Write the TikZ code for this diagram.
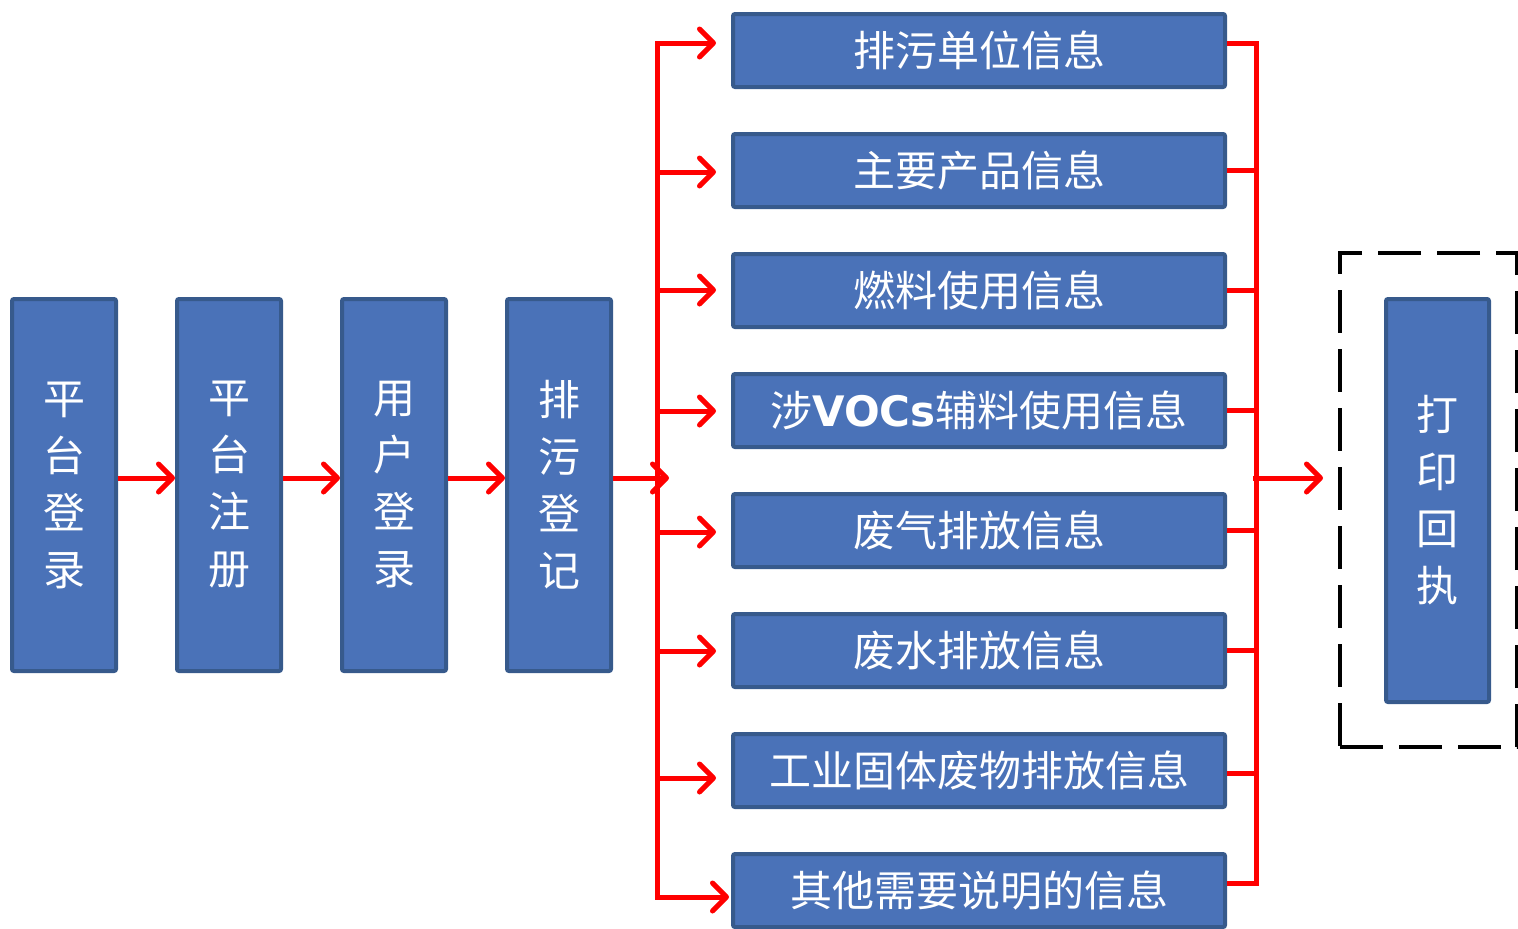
\documentclass[tikz,border=0pt]{standalone}
\usepackage{fontspec}
\newfontfamily\cjk{Noto Sans CJK SC}
\newfontfamily\dvs{DejaVu Sans}
\usetikzlibrary{arrows.meta}
\definecolor{bfill}{HTML}{4A72B8}
\definecolor{bborder}{HTML}{375A8C}
\tikzset{
  box/.style={draw=bborder, fill=bfill, line width=4pt, rounded corners=2pt, text=white, inner sep=0pt},
  vbox/.style={box, minimum width=104, minimum height=372, align=center, font=\cjk\fontsize{42}{57}\selectfont},
  hbox/.style={box, minimum width=492, minimum height=73, font=\cjk\fontsize{42}{50}\selectfont},
  redline/.style={draw=red, line width=5pt},
  arr/.style={redline, -{Straight Barb[length=14pt,width=28pt,round]}},
  dashbox/.style={draw=black, line width=4pt, dash pattern=on 43pt off 16pt}
}
\begin{document}
\begin{tikzpicture}[x=1pt,y=-1pt]
\useasboundingbox (0,0) rectangle (1518,929);
\clip (0,0) rectangle (1518,929);
% left column
\node[vbox] (a) at (64,485) {平\\台\\登\\录};
\node[vbox] (b) at (229,485) {平\\台\\注\\册};
\node[vbox] (c) at (394,485) {用\\户\\登\\录};
\node[vbox] (d) at (559,485) {排\\污\\登\\记};
% right boxes
\node[hbox] (r1) at (979,50.5) {排污单位信息};
\node[hbox] (r2) at (979,170.5) {主要产品信息};
\node[hbox] (r3) at (979,290.5) {燃料使用信息};
\node[hbox] (r4) at (979,410.5) {涉{\dvs\bfseries VOCs}辅料使用信息};
\node[hbox] (r5) at (979,530.5) {废气排放信息};
\node[hbox] (r6) at (979,650.5) {废水排放信息};
\node[hbox] (r7) at (979,770.5) {工业固体废物排放信息};
\node[hbox] (r8) at (979,890.5) {其他需要说明的信息};
% print
\node[vbox, minimum width=103, minimum height=403] (p) at (1437.5,500.5) {打\\印\\回\\执};
\node[dashbox, minimum width=177, minimum height=494, inner sep=0pt] (g) at (1428.5,500) {};
% coordinates
\coordinate (m) at (0,478);
\coordinate (lt) at (657,43);
\coordinate (lb) at (657,897);
\coordinate (rt) at (1256,43);
\coordinate (rb) at (1256,883);
\coordinate (ro) at (1253,478);
% left chain arrows
\draw[arr] (a.east|-m) -- (b.west|-m);
\draw[arr] (b.east|-m) -- (c.west|-m);
\draw[arr] (c.east|-m) -- (d.west|-m);
\draw[arr] (d.east|-m) -- ([xshift=56pt]d.east|-m);
% left bus
\draw[redline, line cap=rect] (lt) -- (lb);
\draw[arr, shorten >=15pt] (lt) -- (r1.west|-lt);
\draw[arr, shorten >=15pt] (lt|-0,172) -- (r2.west|-0,172);
\draw[arr, shorten >=15pt] (lt|-0,290) -- (r3.west|-0,290);
\draw[arr, shorten >=15pt] (lt|-0,411) -- (r4.west|-0,411);
\draw[arr, shorten >=15pt] (lt|-0,532) -- (r5.west|-0,532);
\draw[arr, shorten >=15pt] (lt|-0,651) -- (r6.west|-0,651);
\draw[arr, shorten >=15pt] (lt|-0,778) -- (r7.west|-0,778);
\draw[arr, shorten >=2pt] (lb) -- (r8.west|-lb);
% right bus
\draw[redline] (r1.east|-rt) -- (rt) -- (rb) -- (r8.east|-rb);
\draw[redline] (r2.east) -- (rt|-r2.east);
\draw[redline] (r3.east) -- (rt|-r3.east);
\draw[redline] (r4.east) -- (rt|-r4.east);
\draw[redline] (r5.east) -- (rt|-r5.east);
\draw[redline] (r6.east) -- (rt|-r6.east);
\draw[redline] (r7.east|-0,773.5) -- (rt|-0,773.5);
\draw[arr] (ro) -- ([xshift=-15pt]g.west|-ro);
\end{tikzpicture}
\end{document}
